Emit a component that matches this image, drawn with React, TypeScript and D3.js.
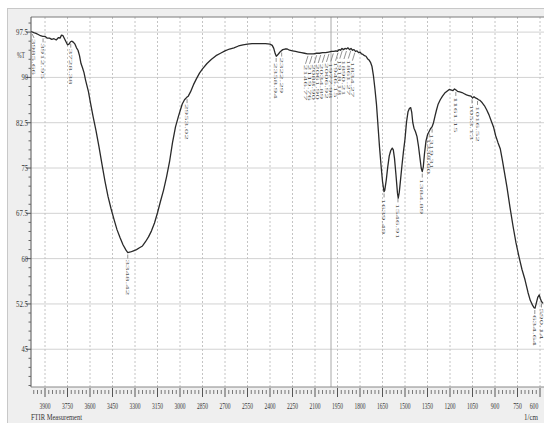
import React from "react";
import * as d3 from "d3";

// Spectrum: [wavenumber (1/cm), %T]
const spectrum: [number, number][] = [
  [3992, 97.6], [3975, 97.4], [3960, 97.3], [3945, 97.1], [3930, 96.9], [3915, 96.8],
  [3900, 96.8], [3885, 96.5], [3870, 96.5], [3855, 96.3], [3840, 96.4], [3825, 96.2],
  [3810, 96.6], [3800, 96.5], [3790, 97.0], [3780, 96.9], [3770, 96.4], [3760, 95.9],
  [3750, 95.4], [3740, 95.5], [3730, 95.9], [3720, 96.0], [3710, 95.8], [3700, 95.5],
  [3690, 94.9], [3680, 94.5], [3670, 93.6], [3660, 92.3], [3650, 91.6], [3640, 90.8],
  [3630, 89.6], [3620, 88.6], [3610, 87.6], [3600, 86.2], [3580, 83.6], [3560, 81.2],
  [3540, 78.5], [3520, 75.6], [3500, 72.8], [3480, 70.3], [3460, 68.3], [3440, 66.5],
  [3420, 64.8], [3400, 63.5], [3380, 62.3], [3360, 61.4], [3348, 61.0], [3330, 61.1],
  [3310, 61.3], [3290, 61.5], [3270, 61.8], [3250, 62.1], [3230, 62.8], [3210, 63.6],
  [3190, 64.6], [3170, 65.9], [3150, 67.6], [3130, 69.5], [3110, 71.3], [3090, 73.5],
  [3070, 76.0], [3050, 79.2], [3030, 81.8], [3010, 83.6], [3000, 84.4], [2985, 85.6],
  [2970, 86.3], [2955, 86.7], [2945, 86.9], [2930, 87.6], [2910, 88.8], [2890, 89.8],
  [2870, 90.7], [2850, 91.4], [2820, 92.3], [2790, 93.0], [2760, 93.6], [2730, 94.0],
  [2700, 94.4], [2670, 94.7], [2640, 94.9], [2610, 95.2], [2580, 95.4], [2550, 95.5],
  [2520, 95.6], [2490, 95.6], [2460, 95.6], [2430, 95.6], [2400, 95.5], [2385, 95.3],
  [2375, 94.8], [2365, 93.9], [2358, 93.5], [2350, 93.7], [2340, 94.0], [2330, 94.3],
  [2315, 94.6], [2300, 94.7], [2285, 94.7], [2270, 94.5], [2250, 94.4], [2230, 94.3],
  [2210, 94.2], [2190, 94.1], [2170, 94.0], [2150, 93.9], [2130, 93.9], [2110, 93.9],
  [2090, 94.0], [2070, 94.0], [2050, 94.1], [2030, 94.1], [2010, 94.2], [1990, 94.3],
  [1975, 94.3], [1960, 94.4], [1950, 94.3], [1940, 94.6], [1930, 94.5], [1920, 94.8],
  [1910, 94.6], [1900, 94.8], [1890, 94.7], [1880, 94.9], [1870, 94.6], [1860, 94.8],
  [1850, 94.5], [1840, 94.6], [1830, 94.3], [1820, 94.4], [1810, 94.1], [1800, 94.2],
  [1790, 93.9], [1780, 93.8], [1770, 93.6], [1760, 93.5], [1750, 93.1], [1740, 92.9],
  [1730, 92.5], [1720, 91.8], [1710, 90.2], [1700, 88.0], [1690, 85.5], [1680, 82.0],
  [1670, 78.5], [1660, 75.5], [1650, 72.8], [1640, 71.1], [1635, 71.3], [1625, 73.0],
  [1615, 75.2], [1605, 77.0], [1595, 77.9], [1585, 78.3], [1578, 78.0], [1570, 76.6],
  [1560, 73.8], [1550, 70.8], [1545, 70.0], [1538, 71.0], [1530, 73.0], [1520, 75.5],
  [1510, 77.8], [1500, 79.8], [1490, 82.6], [1480, 84.3], [1470, 84.9], [1462, 85.0],
  [1455, 84.2], [1448, 82.5], [1440, 81.6], [1430, 81.0], [1420, 80.2], [1410, 78.6],
  [1400, 76.6], [1392, 75.0], [1385, 74.4], [1378, 75.2], [1370, 77.4], [1360, 79.5],
  [1350, 80.5], [1340, 81.0], [1330, 81.5], [1320, 81.8], [1310, 82.5], [1300, 83.6],
  [1290, 84.6], [1280, 85.5], [1265, 86.3], [1250, 86.9], [1235, 87.4], [1220, 87.7],
  [1205, 88.0], [1190, 87.9], [1180, 87.8], [1170, 88.1], [1160, 87.9], [1150, 87.7],
  [1135, 87.6], [1120, 87.5], [1105, 87.3], [1090, 87.1], [1075, 87.0], [1060, 86.9],
  [1050, 86.6], [1040, 86.8], [1030, 86.6], [1020, 86.5], [1010, 86.3], [1000, 86.2],
  [985, 85.8], [970, 85.3], [955, 84.6], [940, 83.8], [925, 82.8], [910, 81.8],
  [895, 80.3], [880, 79.2], [865, 78.2], [850, 76.2], [835, 74.0], [820, 71.8],
  [800, 68.5], [780, 65.4], [760, 62.6], [740, 60.3], [720, 58.2], [700, 56.5],
  [680, 54.4], [665, 53.1], [650, 52.3], [640, 51.9], [633, 51.8], [625, 52.6],
  [615, 53.6], [605, 54.0], [598, 53.4], [590, 52.9], [580, 52.6],
];

// Peak labels (wavenumbers)
const peaks: number[] = [
  3985.66, 3912.95, 3728.38, 3348.42, 2953.02, 2358.94, 2322.29,
  2146.77, 2119.76, 2088.9, 2061.9, 2034.89, 2006.92, 1977.98, 1946.15,
  1918.18, 1890.21, 1861.27, 1834.27,
  1639.49, 1546.91, 1384.89, 1338.6, 1319.31, 1161.15, 1053.13, 1016.52,
  634.64, 590.14,
];

const xTicks: number[] = [3900, 3750, 3600, 3450, 3300, 3150, 3000, 2850, 2700, 2550, 2400, 2250, 2100, 1950, 1800, 1650, 1500, 1350, 1200, 1050, 900, 750, 600];
const yTicks: number[] = [97.5, 90, 82.5, 75, 67.5, 60, 52.5, 45];
const yTickLabels: string[] = ["97.5", "90", "82.5", "75", "67.5", "60", "52.5", "45"];

const W = 544;
const H = 423;
const L = 31, T = 17, R = 544, B = 387;
const FONT = "'Liberation Serif', 'DejaVu Serif', serif";

export default function App() {
  const x = d3.scaleLinear().domain([4000, 600]).range([30, 540]);
  const y = d3.scaleLinear().domain([38.75, 100]).range([B, T]);

  const line = d3.line<[number, number]>().x((d) => x(d[0])).y((d) => y(d[1]));

  const sorted = [...spectrum].sort((a, b) => a[0] - b[0]);
  const bis = d3.bisector((d: [number, number]) => d[0]).left;
  const tAt = (w: number) => {
    const i = Math.max(1, Math.min(sorted.length - 1, bis(sorted, w)));
    const a = sorted[i - 1], b = sorted[i];
    const t = (w - a[0]) / (b[0] - a[0]);
    return a[1] + (b[1] - a[1]) * t;
  };

  const minorX = d3.range(3975, 575, -25).filter((v) => v % 150 !== 0);
  const minorY = d3.range(39, 100, 1.5).filter((v) => Math.abs(((v - 45) / 7.5) - Math.round((v - 45) / 7.5)) > 1e-6);

  return (
    <svg width={W} height={H} style={{ position: "absolute", left: 0, top: 0, background: "#fff" }} fontFamily={FONT}>
      <defs>
        <clipPath id="plotClip">
          <rect x={L} y={T} width={R - L} height={B - T} />
        </clipPath>
      </defs>
      {/* panel */}
      <rect x={7.5} y={8.5} width={W - 7} height={H - 8} fill="#efefef" stroke="#c8c8c8" />
      <rect x={L} y={T} width={R - L} height={B - T} fill="#fff" />

      {/* grid */}
      {yTicks.map((v) => (
        <line key={"gy" + v} x1={L} x2={R} y1={y(v)} y2={y(v)} stroke="#d2d2d2" strokeWidth={1} />
      ))}
      {xTicks.map((v) => (
        <line key={"gx" + v} x1={x(v)} x2={x(v)} y1={T} y2={B} stroke="#c4c4c4" strokeWidth={1} strokeDasharray="2,2" />
      ))}
      <line x1={x(2000) + 1} x2={x(2000) + 1} y1={T} y2={B} stroke="#a8a8a8" strokeWidth={1} />

      {/* frame lines */}
      <line x1={L} x2={R} y1={T} y2={T} stroke="#7a7a7a" strokeWidth={1} />
      <line x1={L} x2={L} y1={T} y2={B} stroke="#555" strokeWidth={1} />
      <line x1={L} x2={R} y1={B} y2={B} stroke="#888" strokeWidth={1} />

      {/* y ticks */}
      {yTicks.map((v, i) => (
        <g key={"yt" + v}>
          <line x1={L - 5} x2={L} y1={y(v)} y2={y(v)} stroke="#555" />
          <text x={28} y={y(v) + 3} fontSize={9} textAnchor="end" fill="#333"
            textLength={yTickLabels[i].length > 2 ? 12 : 6.5} lengthAdjust="spacingAndGlyphs">
            {yTickLabels[i]}
          </text>
        </g>
      ))}
      {minorY.map((v) => (
        <line key={"my" + v} x1={L - 2.5} x2={L} y1={y(v)} y2={y(v)} stroke="#666" />
      ))}
      <text x={17} y={58} fontSize={9} fill="#333" textLength={8} lengthAdjust="spacingAndGlyphs">%T</text>

      {/* x ticks */}
      {minorX.map((v) => (
        <line key={"mx" + v} x1={x(v)} x2={x(v)} y1={390} y2={394} stroke="#777" />
      ))}
      {xTicks.map((v) => (
        <g key={"xt" + v}>
          <line x1={x(v)} x2={x(v)} y1={388} y2={397} stroke="#555" />
          <text x={Math.min(x(v), 534)} y={409} fontSize={9} textAnchor="middle" fill="#333"
            textLength={v >= 1000 ? 11 : 8.5} lengthAdjust="spacingAndGlyphs">
            {v}
          </text>
        </g>
      ))}
      <text x={31} y={420} fontSize={9} fill="#333" textLength={51} lengthAdjust="spacingAndGlyphs">FTIR Measurement</text>
      <text x={524} y={420} fontSize={9} fill="#333" textLength={14} lengthAdjust="spacingAndGlyphs">1/cm</text>

      {/* spectrum */}
      <g clipPath="url(#plotClip)">
        <path d={line(spectrum) || ""} fill="none" stroke="#2a2a2a" strokeWidth={1.3} strokeLinejoin="round" />

        {/* peak labels */}
        {peaks.map((w) => {
          const px = x(w);
          const py = y(tAt(w)) + 2;
          const cluster = w > 1800 && w < 2200;
          const dx = cluster ? -2.5 : 0;
          const len = cluster ? 8 : 4;
          const label = w.toFixed(2);
          const tx = Math.max(px + dx, L + 3);
          const ty = py + len + 1;
          return (
            <g key={"pk" + w}>
              <line x1={px} y1={py} x2={tx} y2={py + len} stroke="#666" strokeWidth={0.7} />
              <text transform={`translate(${tx - 1.8},${ty}) rotate(90)`} fontSize={5} fill="#555"
                textLength={label.length * 5.1} lengthAdjust="spacingAndGlyphs">
                {label}
              </text>
            </g>
          );
        })}
      </g>
    </svg>
  );
}
